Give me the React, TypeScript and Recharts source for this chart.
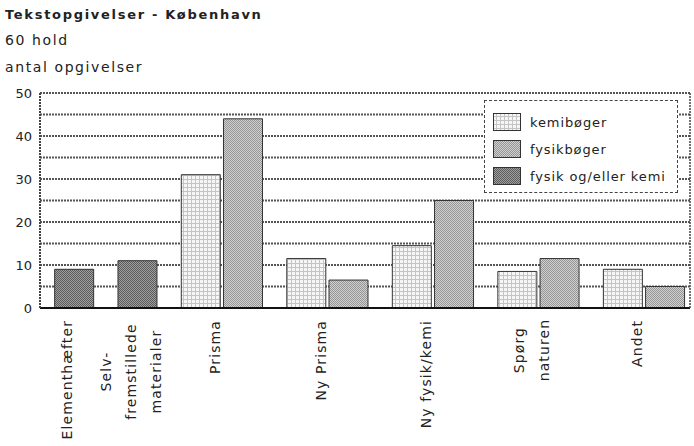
import { BarChart, Bar, XAxis, YAxis, CartesianGrid, Legend } from 'recharts';

const categories = [
  'Elementhæfter',
  'Selv-\nfremstillede\nmaterialer',
  'Prisma',
  'Ny Prisma',
  'Ny fysik/kemi',
  'Spørg\nnaturen',
  'Andet',
];
const kemiboger = [null, null, 31, 11.5, 14.5, 8.5, 9];
const fysikboger = [null, null, 44, 6.5, 25, 11.5, 5];
const fysikOgEllerKemi = [9, 11, null, null, null, null, null];
const yTicks = [0, 5, 10, 15, 20, 25, 30, 35, 40, 45, 50];

const series = [
  { key: 'kemi', name: 'kemibøger', values: kemiboger, fill: 'url(#pKemi)' },
  { key: 'fysik', name: 'fysikbøger', values: fysikboger, fill: 'url(#pFysik)' },
  { key: 'begge', name: 'fysik og/eller kemi', values: fysikOgEllerKemi, fill: 'url(#pBegge)' },
];

// one slot per bar, half a slot between groups
const rows: any[] = [];
const catCenters: number[] = [];
let cursor = 0;
categories.forEach((_, i) => {
  const start = cursor;
  series.forEach((s) => {
    const v = s.values[i];
    if (v == null) return;
    rows.push({ x: cursor + 0.5, [s.key]: v });
    cursor += 1;
  });
  catCenters.push((start + cursor) / 2);
  cursor += 0.5;
});

const font = '"DejaVu Sans", sans-serif';
const txt = '#222';

const CategoryTick = (props: any) => {
  const { x, y, payload } = props;
  const idx = catCenters.findIndex((c) => Math.abs(c - payload.value) < 1e-6);
  if (idx < 0) return null;
  const lines = categories[idx].split('\n');
  const n = lines.length;
  const longest = Math.max(...lines.map((l) => l.length));
  // multi-line labels are centred line by line
  const mid = y + 4 + longest * 4.3;
  return (
    <g>
      {lines.map((l, i) => (
        <text
          key={i}
          transform={`translate(${x - 1.5 + (i - (n - 1) / 2) * 25}, ${n > 1 ? mid : y + 4}) rotate(-90)`}
          textAnchor={n > 1 ? 'middle' : 'end'}
          fontSize={14}
          letterSpacing={1.1}
          fontFamily={font}
          fill={txt}
        >
          {l}
        </text>
      ))}
    </g>
  );
};

const LegendBox = () => (
  <div
    style={{
      width: 194,
      height: 93,
      border: '1px dashed #444',
      background: '#fff',
      boxSizing: 'border-box',
      position: 'relative',
      fontFamily: font,
    }}
  >
    {series.map((s, i) => (
      <div
        key={s.key}
        style={{ position: 'absolute', left: 8, top: 12 + i * 27, display: 'flex', alignItems: 'center' }}
      >
        <svg width={28} height={18} style={{ display: 'block' }}>
          <rect x={0.5} y={0.5} width={27} height={17} fill={s.fill} stroke="#333" />
        </svg>
        <span style={{ marginLeft: 9, fontSize: 13, letterSpacing: 0.9, color: txt }}>{s.name}</span>
      </div>
    ))}
  </div>
);

export default function App() {
  return (
    <div style={{ position: 'absolute', left: 0, top: 0, width: 694, height: 446, background: '#fff' }}>
      <div style={{ position: 'absolute', left: 5, top: 4, fontFamily: font, color: txt }}>
        <div style={{ fontWeight: 'bold', fontSize: 13, letterSpacing: 1.7, lineHeight: '22px' }}>
          Tekstopgivelser - København
        </div>
        <div style={{ fontSize: 14, letterSpacing: 1.6, lineHeight: '28px' }}>60 hold</div>
        <div style={{ fontSize: 14, letterSpacing: 1.6, lineHeight: '26px' }}>antal opgivelser</div>
      </div>
      <BarChart width={694} height={446} data={rows} margin={{ top: 93, right: 3, bottom: 0, left: 0 }}>
        <defs>
          <pattern id="pKemi" width={4} height={4} patternUnits="userSpaceOnUse">
            <rect width={4} height={4} fill="#c4c4c4" />
            <rect width={3} height={3} fill="#f6f6f6" />
          </pattern>
          <pattern id="pFysik" width={2} height={2} patternUnits="userSpaceOnUse">
            <rect width={2} height={2} fill="#d0d0d0" />
            <rect width={1} height={1} fill="#969696" />
            <rect x={1} y={1} width={1} height={1} fill="#969696" />
          </pattern>
          <pattern id="pBegge" width={2} height={2} patternUnits="userSpaceOnUse">
            <rect width={2} height={2} fill="#a0a0a0" />
            <rect width={1} height={1} fill="#5a5a5a" />
            <rect x={1} y={1} width={1} height={1} fill="#5a5a5a" />
          </pattern>
        </defs>
        <CartesianGrid vertical={false} stroke="#555" strokeDasharray="2 1" strokeWidth={2} />
        <XAxis
          type="number"
          dataKey="x"
          domain={[-0.3, 15.1]}
          ticks={catCenters}
          interval={0}
          height={138}
          tickLine={false}
          axisLine={{ stroke: '#111', strokeWidth: 2 }}
          tick={<CategoryTick />}
        />
        <YAxis
          domain={[0, 50]}
          ticks={yTicks}
          width={40}
          tickLine={false}
          tickFormatter={(v: number) => (v % 10 === 0 ? String(v) : '')}
          axisLine={{ stroke: '#444', strokeWidth: 2, strokeDasharray: '2 1' }}
          tick={{ fontSize: 13, fill: txt, fontFamily: font }}
        />
        <YAxis
          yAxisId="r"
          orientation="right"
          domain={[0, 50]}
          width={1}
          tick={false}
          tickLine={false}
          axisLine={{ stroke: '#444', strokeWidth: 1.5, strokeDasharray: '2 1' }}
        />
        <Legend
          layout="vertical"
          align="center"
          verticalAlign="middle"
          content={<LegendBox />}
          wrapperStyle={{ position: 'absolute', left: 484, top: 100, width: 194, height: 93 }}
        />
        {series.map((s) => (
          <Bar
            key={s.key}
            dataKey={s.key}
            name={s.name}
            stackId="s"
            barSize={39}
            fill={s.fill}
            stroke="#333"
            strokeWidth={1}
            isAnimationActive={false}
          />
        ))}
      </BarChart>
    </div>
  );
}
